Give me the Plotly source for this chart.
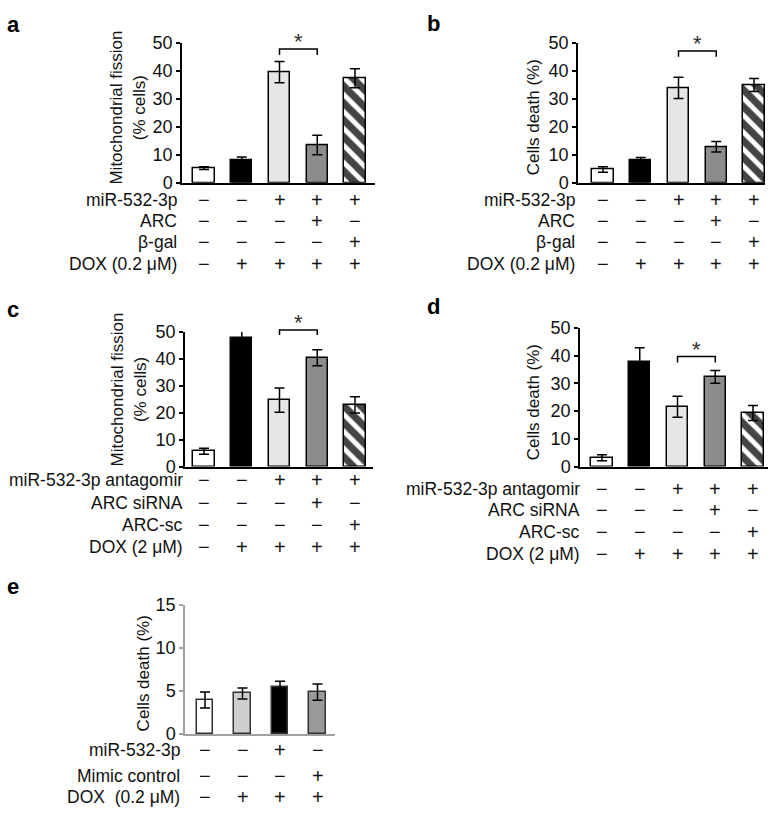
import plotly.graph_objects as go

W, H = 777, 819

# ---------------- data ----------------
a_vals = [5.2, 8.2, 39.6, 13.5, 37.4]
a_err = [0.5, 1.0, 3.8, 3.5, 3.4]
b_vals = [4.7, 8.0, 34.0, 12.9, 35.0]
b_err = [1.0, 1.0, 3.8, 1.9, 2.3]
c_vals = [5.7, 47.6, 24.7, 40.4, 22.9]
c_err = [1.1, 3.8, 4.5, 3.0, 3.0]
d_vals = [3.2, 37.6, 21.6, 32.4, 19.3]
d_err = [1.1, 5.3, 3.8, 2.3, 2.7]
e_vals = [3.94, 4.7, 5.43, 4.86]
e_err = [0.94, 0.63, 0.7, 0.94]

ab_rows = ["miR-532-3p", "ARC", "β-gal", "DOX (0.2 μM)"]
ab_signs = ["−−+++", "−−−+−", "−−−−+", "−++++"]
cd_rows = ["miR-532-3p antagomir", "ARC siRNA", "ARC-sc", "DOX (2 μM)"]
cd_signs = ["−−+++", "−−−+−", "−−−−+", "−++++"]
e_rows = ["miR-532-3p", "Mimic control", "DOX\u00a0 (0.2 μM)"]
e_signs = ["−−+−", "−−−+", "−+++"]

ticks_50 = [0, 10, 20, 30, 40, 50]
ticks_15 = [0, 5, 10, 15]

# significance brackets: (bar i, bar j, bracket height, leg bottom)
sig_a = (2, 3, 47.9, 45.8)
sig_b = (2, 3, 47.2, 45.1)
sig_c = (2, 3, 50.7, 48.9)
sig_d = (2, 3, 39.7, 37.6)

# ---------------- styles ----------------
cols5 = ["white", "black", "#e6e6e6", "#8c8c8c", "white"]
pat5 = ["", "", "", "", "\\"]
cols4 = ["white", "#cfcfcf", "black", "#9a9a9a"]
FONT = "Arial, Liberation Sans, sans-serif"
TXT = "#111111"

fig = go.Figure()

panels = {
    "a": dict(ax=182, end=375, c0=204, sp=37.75, top=34, bot=177, ymax=50),
    "b": dict(ax=578, end=765, c0=603, sp=37.75, top=34, bot=177, ymax=50),
    "c": dict(ax=185, end=373, c0=204, sp=37.75, top=330, bot=468, ymax=50),
    "d": dict(ax=580, end=768, c0=602, sp=37.75, top=326, bot=468, ymax=50),
    "e": dict(ax=185, end=335, c0=205, sp=37.5, top=610, bot=742, ymax=15),
}
order = ["a", "b", "c", "d", "e"]
data = {
    "a": (a_vals, a_err), "b": (b_vals, b_err), "c": (c_vals, c_err),
    "d": (d_vals, d_err), "e": (e_vals, e_err),
}

def px_x(p):
    return p / W

def px_y(p):
    return 1 - p / H

layout = {}
for k, name in enumerate(order):
    g = panels[name]
    idx = "" if k == 0 else str(k + 1)
    xa, ya = "xaxis" + idx, "yaxis" + idx
    xr, yr = "x" + idx, "y" + idx
    vals, errs = data[name]
    n = len(vals)
    r0 = (g["ax"] - g["c0"]) / g["sp"]
    r1 = (g["end"] - g["c0"]) / g["sp"]
    is_e = name == "e"
    axcol = "#a0a0a0" if is_e else "black"
    layout[xa] = dict(domain=[px_x(g["ax"]), px_x(g["end"])], range=[r0, r1],
                      showline=True, linecolor=axcol, linewidth=1.5,
                      showticklabels=False, ticks="", showgrid=False,
                      zeroline=False, anchor=yr, fixedrange=True)
    layout[ya] = dict(domain=[px_y(g["bot"]), px_y(g["top"])], range=[0, g["ymax"]],
                      showline=True, linecolor=axcol, linewidth=1.5,
                      tickvals=ticks_15 if is_e else ticks_50,
                      ticks="outside", ticklen=4, tickwidth=1.5, tickcolor=axcol,
                      tickfont=dict(family=FONT, size=18, color=TXT),
                      showgrid=False, zeroline=False, anchor=xr, fixedrange=True)
    fig.add_trace(go.Bar(
        x=list(range(n)), y=vals, xaxis=xr, yaxis=yr,
        width=0.45 if is_e else 0.56,
        marker=dict(color=cols4 if is_e else cols5,
                    line=dict(color="#333333" if is_e else "black", width=1.5),
                    pattern=dict(shape=[""] * n if is_e else pat5,
                                 fgcolor="black", bgcolor="white", fgopacity=1,
                                 size=12, solidity=0.6, fillmode="overlay")),
        error_y=dict(type="data", array=errs, visible=True, color="black",
                     thickness=1.5, width=5),
        showlegend=False, hoverinfo="skip"))

fig.update_layout(**layout)

ann = []
shapes = []

def table(idx, rows, signs, ys, right_px):
    xr = "x" + idx
    for lab, s, yp in zip(rows, signs, ys):
        ann.append(dict(text=lab, x=px_x(right_px), y=px_y(yp), xref="paper", yref="paper",
                        xanchor="right", yanchor="middle", showarrow=False,
                        font=dict(family=FONT, size=17.5, color=TXT)))
        for i, ch in enumerate(s):
            ann.append(dict(text=ch, x=i, y=px_y(yp), xref=xr, yref="paper",
                            xanchor="center", yanchor="middle", showarrow=False,
                            font=dict(family=FONT, size=20, color=TXT)))

table("", ab_rows, ab_signs, [195, 216.5, 238, 260], 179)
table("2", ab_rows, ab_signs, [195, 216.5, 238, 260], 577)
table("3", cd_rows, cd_signs, [482, 505, 528, 550], 185)
table("4", cd_rows, cd_signs, [491, 513, 535, 558], 582)
table("5", e_rows, e_signs, [759, 785, 807], 182)

def bracket(idx, sig, ymax):
    i, j, h, lo = sig
    xr, yr = "x" + idx, "y" + idx + " domain"
    hd, lod = h / ymax, lo / ymax
    shapes.append(dict(type="path", xref=xr, yref=yr,
                       path=f"M {i},{lod} L {i},{hd} L {j},{hd} L {j},{lod}",
                       line=dict(color="black", width=1.5)))
    ann.append(dict(text="*", x=(i + j) / 2, y=hd, xref=xr, yref=yr,
                    xanchor="center", yanchor="bottom", showarrow=False, yshift=-7,
                    font=dict(family=FONT, size=22, color="#333333")))

bracket("", sig_a, 50)
bracket("2", sig_b, 50)
bracket("3", sig_c, 50)
bracket("4", sig_d, 50)

def ytitle(text, xc, yc):
    ann.append(dict(text=text, x=px_x(xc), y=px_y(yc), xref="paper", yref="paper",
                    xanchor="center", yanchor="middle", textangle=-90, showarrow=False,
                    font=dict(family=FONT, size=17, color=TXT)))

ytitle("Mitochondrial fission<br>(% cells)", 128, 100)
ytitle("Cells death (%)", 533, 110)
ytitle("Mitochondrial fission<br>(% cells)", 129, 389)
ytitle("Cells death (%)", 533, 402)
ytitle("Cells death (%)", 143, 680)

for lab, xp, yp in [("a", 13, 15), ("b", 434, 14), ("c", 13, 307), ("d", 434, 304), ("e", 13, 591)]:
    ann.append(dict(text=f"<b>{lab}</b>", x=px_x(xp), y=px_y(yp), xref="paper", yref="paper",
                    xanchor="center", yanchor="middle", showarrow=False,
                    font=dict(family=FONT, size=22, color="black")))

fig.update_layout(width=W, height=H, margin=dict(l=0, r=0, t=0, b=0),
                  paper_bgcolor="white", plot_bgcolor="rgba(0,0,0,0)",
                  annotations=ann, shapes=shapes, bargap=0)

fig.write_html("out.html", config={"displayModeBar": False},
               post_script="document.body.style.margin='0';document.body.style.overflow='hidden';")
